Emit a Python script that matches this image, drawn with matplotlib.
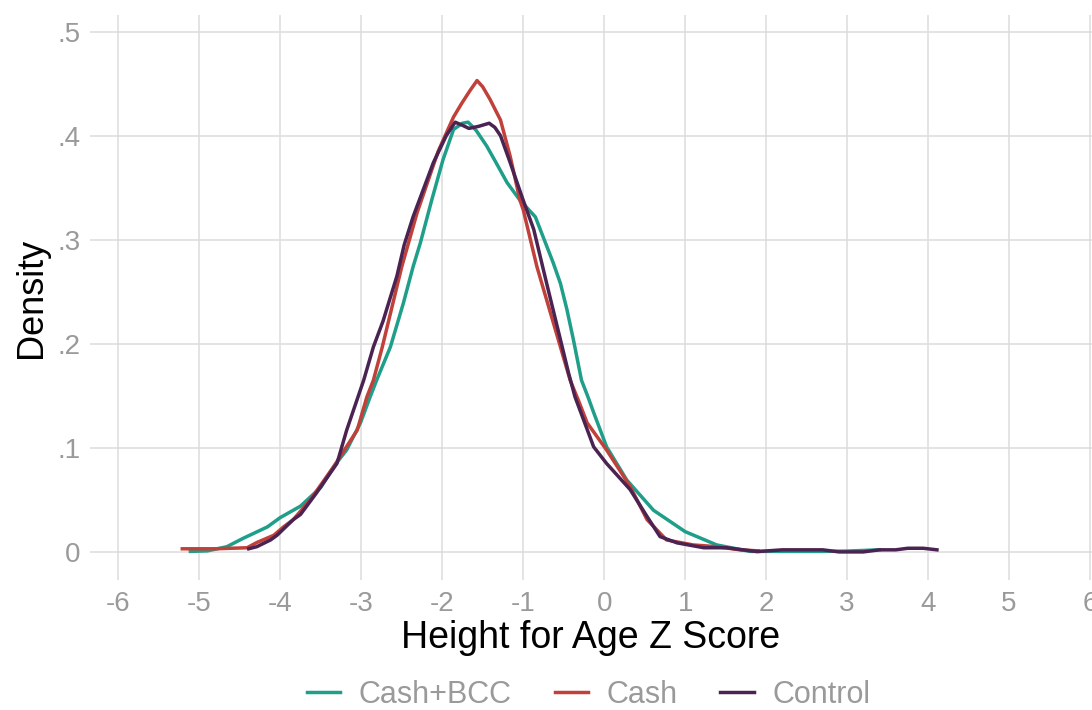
import matplotlib
matplotlib.use("Agg")
import matplotlib.pyplot as plt

plt.rcParams['font.family'] = ['Liberation Sans', 'DejaVu Sans']

# density curves (z score, density)
bcc_x = [-5.11, -4.9, -4.66, -4.46, -4.16, -4.0, -3.75, -3.5, -3.34, -3.18, -3.01, -2.89,
         -2.81, -2.64, -2.48, -2.36, -2.27, -2.13, -1.99, -1.86, -1.75, -1.68, -1.58, -1.45,
         -1.32, -1.2, -1.04, -0.85, -0.79, -0.63, -0.54, -0.46, -0.38, -0.28, -0.2, -0.13,
         0.03, 0.28, 0.61, 1.0, 1.39, 1.8, 2.2, 2.7, 3.0, 3.4]
bcc_y = [0.0005, 0.001, 0.005, 0.013, 0.024, 0.033, 0.044, 0.062, 0.082, 0.098, 0.124, 0.149,
         0.165, 0.197, 0.239, 0.274, 0.297, 0.338, 0.377, 0.406, 0.412, 0.413, 0.405, 0.39,
         0.372, 0.355, 0.338, 0.322, 0.31, 0.278, 0.258, 0.233, 0.204, 0.165, 0.149, 0.134,
         0.101, 0.069, 0.040, 0.0195, 0.0067, 0.0005, 0.0005, 0.0005, 0.0008, 0.002]

cash_x = [-5.21, -4.8, -4.41, -4.29, -4.08, -3.96, -3.84, -3.63, -3.34, -3.05, -2.93, -2.85,
          -2.74, -2.5, -2.31, -2.05, -1.86, -1.76, -1.66, -1.57, -1.5, -1.41, -1.28, -1.16,
          -1.04, -1.0, -0.83, -0.54, -0.42, -0.32, -0.21, 0.03, 0.32, 0.53, 0.77, 1.1, 1.39,
          1.68, 1.9]
cash_y = [0.003, 0.003, 0.004, 0.009, 0.016, 0.024, 0.031, 0.05, 0.082, 0.117, 0.149, 0.165,
          0.197, 0.274, 0.326, 0.385, 0.418, 0.431, 0.443, 0.453, 0.447, 0.435, 0.415, 0.38,
          0.338, 0.329, 0.274, 0.197, 0.165, 0.146, 0.124, 0.098, 0.063, 0.031, 0.0115, 0.0067,
          0.005, 0.002, 0.001]

ctrl_x = [-4.39, -4.29, -4.12, -4.04, -3.84, -3.75, -3.55, -3.3, -3.18, -3.04, -2.97, -2.85,
          -2.73, -2.56, -2.47, -2.36, -2.11, -1.95, -1.84, -1.75, -1.67, -1.55, -1.42, -1.35,
          -1.28, -1.16, -1.0, -0.87, -0.71, -0.54, -0.44, -0.36, -0.13, 0.03, 0.32, 0.53, 0.69,
          0.9, 1.23, 1.51, 1.89, 2.2, 2.7, 2.9, 3.2, 3.4, 3.6, 3.75, 3.94, 4.11]
ctrl_y = [0.003, 0.005, 0.0115, 0.016, 0.031, 0.036, 0.057, 0.085, 0.117, 0.149, 0.165, 0.197,
          0.222, 0.265, 0.295, 0.322, 0.374, 0.400, 0.413, 0.410, 0.407, 0.409, 0.412, 0.408,
          0.40, 0.374, 0.338, 0.31, 0.258, 0.204, 0.172, 0.149, 0.101, 0.085, 0.06, 0.034, 0.0147,
          0.0087, 0.004, 0.004, 0.0003, 0.002, 0.002, 0.0, 0.0, 0.002, 0.002, 0.0035, 0.0035, 0.002]

x_ticks = list(range(-6, 7))
y_ticks = [0, 0.1, 0.2, 0.3, 0.4, 0.5]
y_tick_labels = ['0', '.1', '.2', '.3', '.4', '.5']

fig = plt.figure(figsize=(10.92, 7.10), dpi=100)
ax = fig.add_axes([90 / 1092, 130 / 710, 1002 / 1092, 565 / 710])

ax.plot(bcc_x, bcc_y, color='#1f9e89', lw=2.5, label='Cash+BCC')
ax.plot(cash_x, cash_y, color='#c0403a', lw=2.5, label='Cash')
ax.plot(ctrl_x, ctrl_y, color='#4a2352', lw=2.5, label='Control')

ax.set_xlim(-6.35, 6.025)
ax.set_ylim(-0.027, 0.516)
ax.set_xticks(x_ticks)
ax.set_xticklabels([str(t) for t in x_ticks])
ax.set_yticks(y_ticks)
ax.set_yticklabels(y_tick_labels)
ax.grid(True, color='#dcdcdc', lw=1.1)
ax.set_axisbelow(True)
for s in ax.spines.values():
    s.set_visible(False)
ax.tick_params(length=0, labelsize=20, labelcolor='#9a9a9a')
ax.tick_params(axis='x', pad=8)
ax.tick_params(axis='y', pad=7)

ax.set_xlabel('Height for Age Z Score', fontsize=27, color='black', labelpad=2)
ax.set_ylabel('Density', fontsize=26, color='black', labelpad=6)

leg = fig.legend(loc='center', bbox_to_anchor=(0.539, 1 - 695 / 710), ncol=3, frameon=False,
                 fontsize=22, handlelength=1.1, handletextpad=0.6, columnspacing=1.4)
for t in leg.get_texts():
    t.set_color('#9a9a9a')

fig.savefig('out.png', dpi=100)
